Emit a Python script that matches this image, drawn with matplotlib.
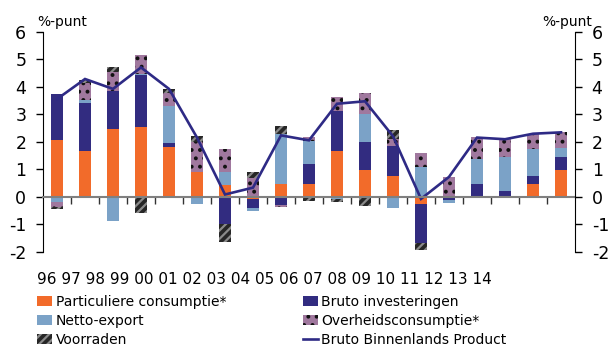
import numpy as np
import matplotlib
matplotlib.use('Agg')
import matplotlib.pyplot as plt
from matplotlib.lines import Line2D

years = ['96', '97', '98', '99', '00', '01', '02', '03', '04', '05',
         '06', '07', '08', '09', '10', '11', '12', '13', '14']

# bijdragen aan de bbp-groei, %-punt
particulier = [2.05, 1.65, 2.45, 2.52, 1.80, 0.91, 0.42, -0.08, 0.47, 0.47,
               1.65, 0.97, 0.76, -0.25, 0.00, 0.03, 0.02, 0.46, 0.97]
investering = [1.67, 1.74, 1.41, 1.89, 0.14, 0.00, -0.99, -0.34, -0.30, 0.73,
               1.45, 1.01, 1.08, -1.42, -0.12, 0.43, 0.19, 0.29, 0.47]
nettoexport = [-0.18, 0.11, -0.88, 0.04, 1.35, -0.25, 0.49, -0.10, 1.82, 0.82,
               -0.10, 1.01, -0.40, 1.07, -0.10, 0.90, 1.23, 0.98, 0.32]
overheid = [-0.20, 0.65, 0.67, 0.72, 0.47, 1.07, 0.82, 0.69, -0.06, 0.14,
            0.51, 0.77, 0.25, 0.51, 0.71, 0.80, 0.65, 0.56, 0.58]
voorraden = [-0.05, 0.10, 0.20, -0.58, 0.14, 0.22, -0.64, 0.20, 0.27, -0.14,
             -0.08, -0.33, 0.33, -0.26, 0.00, 0.00, 0.00, 0.00, 0.00]
bbp = [3.55, 4.28, 3.92, 4.70, 3.92, 2.15, 0.08, 0.33, 2.23, 2.05,
       3.38, 3.47, 2.20, -0.08, 0.72, 2.15, 2.09, 2.29, 2.34]

plt.rcParams['font.family'] = ['DejaVu Sans']
plt.rcParams['axes.unicode_minus'] = False
plt.rcParams['hatch.linewidth'] = 1.6

fig = plt.figure(figsize=(6.11, 3.47), dpi=100)
ax = fig.add_axes([43/611, 1-251.7/347, 532/611, 220/347])

x = np.arange(len(years))
w = 0.42
pos = np.zeros(len(years))
neg = np.zeros(len(years))

series = [
    (particulier, 'Particuliere consumptie*', dict(color='#F26B2A')),
    (investering, 'Bruto investeringen', dict(color='#322C80')),
    (nettoexport, 'Netto-export', dict(color='#7BA2C7')),
    (overheid, 'Overheidsconsumptie*', dict(facecolor='#A0789E', edgecolor='#111111', hatch='..')),
    (voorraden, 'Voorraden', dict(facecolor='#262626', edgecolor='#8a8a8a', hatch='////')),
]
handles = {}
for vals, name, style in series:
    v = np.array(vals)
    bottom = np.where(v >= 0, pos, neg)
    b = ax.bar(x, v, w, bottom=bottom, linewidth=0, label=name, zorder=2, **style)
    handles[name] = b
    pos = pos + np.where(v >= 0, v, 0)
    neg = neg + np.where(v < 0, v, 0)

line, = ax.plot(x, bbp, color='#2E2A85', lw=1.9, zorder=3, solid_joinstyle='miter')

ax.set_xlim(-0.5, len(years) - 0.5)
ax.set_ylim(-2, 6)
ax.set_yticks(range(-2, 7))
ax.tick_params(axis='y', labelsize=12.5, length=5, pad=7, width=1)

for s in ['top', 'right']:
    ax.spines[s].set_visible(False)
ax.spines['bottom'].set_position(('data', 0))
ax.spines['bottom'].set_color('#808080')
ax.spines['bottom'].set_linewidth(1.5)
ax.spines['bottom'].set_zorder(4)
ax.set_xticks(x[:-1] + 0.5)
ax.set_xticklabels([])
ax.tick_params(axis='x', length=5, width=1, color='#333333', direction='out')

ax2 = ax.twinx()
ax2.set_ylim(-2, 6)
ax2.set_yticks(range(-2, 7))
ax2.tick_params(axis='y', labelsize=12.5, length=5, pad=7, width=1)
for s in ['top', 'left', 'bottom']:
    ax2.spines[s].set_visible(False)

fig.text(37/611, 1-22/347, '%-punt', fontsize=10, va='center', ha='left')
fig.text(592/611, 1-22/347, '%-punt', fontsize=10, va='center', ha='right')

# jaartallen als één regel onder de grafiek
fig.text(264/611, 1-280/347, ' '.join(years), fontsize=11, ha='center', va='center')

order = ['Particuliere consumptie*', 'Netto-export', 'Voorraden',
         'Bruto investeringen', 'Overheidsconsumptie*']
hs = [handles[n] for n in order] + [Line2D([], [], color='#2E2A85', lw=1.9)]
labels = order + ['Bruto Binnenlands Product']
fig.legend(hs, labels, loc='upper left', bbox_to_anchor=(37/611, 1-295/347),
           ncol=2, frameon=False, fontsize=10, handlelength=1.1, handleheight=0.8,
           handletextpad=0.25, labelspacing=0.35, columnspacing=5.5,
           borderaxespad=0, borderpad=0)

fig.savefig('out.png', dpi=100)
